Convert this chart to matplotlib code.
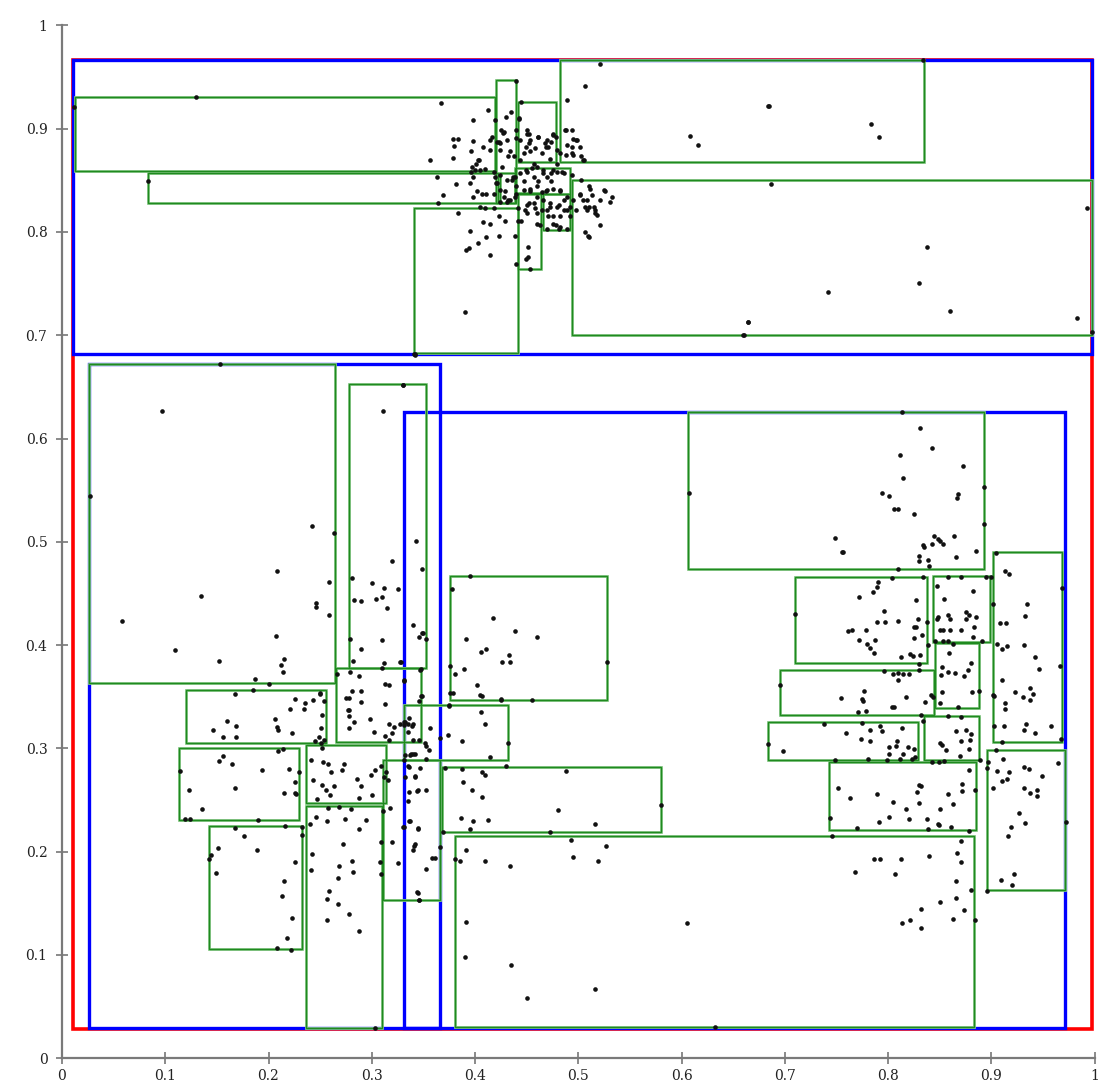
import numpy as np
import matplotlib
matplotlib.use("Agg")
import matplotlib.pyplot as plt
from matplotlib.patches import Rectangle

# ---- R-tree bounding boxes (x0, y0, x1, y1) ----
root_box = [(0.011, 0.028, 0.998, 0.966)]

level1_boxes = [
    (0.011, 0.682, 0.998, 0.966),
    (0.0265, 0.029, 0.366, 0.672),
    (0.331, 0.029, 0.971, 0.626),
]

leaf_boxes = [
    # upper node
    (0.0126, 0.859, 0.4195, 0.931),
    (0.083, 0.828, 0.4225, 0.857),
    (0.420, 0.828, 0.440, 0.947),
    (0.442, 0.868, 0.478, 0.926),
    (0.482, 0.868, 0.835, 0.966),
    (0.4935, 0.700, 0.998, 0.850),
    (0.341, 0.683, 0.442, 0.8235),
    (0.442, 0.764, 0.4635, 0.838),
    (0.466, 0.802, 0.492, 0.837),
    (0.4385, 0.837, 0.492, 0.8615),
    (0.424, 0.828, 0.4385, 0.857),
    # lower-left node
    (0.0265, 0.363, 0.264, 0.672),
    (0.278, 0.378, 0.3525, 0.653),
    (0.120, 0.305, 0.2555, 0.357),
    (0.265, 0.3065, 0.348, 0.3775),
    (0.113, 0.2307, 0.2295, 0.300),
    (0.1424, 0.1055, 0.232, 0.2252),
    (0.236, 0.247, 0.3135, 0.303),
    (0.236, 0.029, 0.3095, 0.244),
    (0.311, 0.153, 0.366, 0.289),
    # lower-right node
    (0.331, 0.289, 0.432, 0.342),
    (0.376, 0.347, 0.528, 0.467),
    (0.368, 0.219, 0.580, 0.282),
    (0.381, 0.0305, 0.883, 0.2155),
    (0.6066, 0.4737, 0.893, 0.626),
    (0.710, 0.383, 0.838, 0.466),
    (0.844, 0.403, 0.899, 0.467),
    (0.902, 0.306, 0.969, 0.490),
    (0.8455, 0.339, 0.888, 0.402),
    (0.695, 0.332, 0.8445, 0.376),
    (0.684, 0.289, 0.829, 0.326),
    (0.835, 0.289, 0.888, 0.331),
    (0.743, 0.221, 0.885, 0.287),
    (0.8956, 0.163, 0.971, 0.2985),
]

# ---- indexed points ----
top_pts = [
    (0.130, 0.931), (0.012, 0.921), (0.083, 0.849), (0.341, 0.682),
    (0.521, 0.963), (0.507, 0.941), (0.489, 0.928), (0.440, 0.946), (0.445, 0.926),
    (0.367, 0.925), (0.413, 0.918), (0.398, 0.908), (0.435, 0.916), (0.430, 0.911),
    (0.443, 0.909), (0.419, 0.908), (0.684, 0.922), (0.608, 0.893), (0.616, 0.884),
    (0.488, 0.899), (0.494, 0.899), (0.425, 0.899), (0.427, 0.896), (0.450, 0.899),
    (0.452, 0.895), (0.379, 0.890), (0.384, 0.890), (0.398, 0.888), (0.380, 0.883),
    (0.408, 0.882), (0.416, 0.892), (0.415, 0.889), (0.423, 0.887), (0.431, 0.889),
    (0.440, 0.891), (0.444, 0.889), (0.453, 0.889), (0.461, 0.892), (0.470, 0.889),
    (0.478, 0.892), (0.476, 0.895), (0.489, 0.884), (0.495, 0.890), (0.499, 0.889),
    (0.502, 0.882), (0.488, 0.874), (0.495, 0.874), (0.503, 0.873), (0.506, 0.870),
    (0.379, 0.872), (0.396, 0.878), (0.404, 0.870), (0.401, 0.866), (0.415, 0.879),
    (0.424, 0.879), (0.434, 0.878), (0.438, 0.873), (0.447, 0.876), (0.449, 0.882),
    (0.458, 0.881), (0.471, 0.882), (0.479, 0.879), (0.482, 0.876), (0.356, 0.870),
    (0.363, 0.853), (0.382, 0.846), (0.369, 0.836), (0.364, 0.828), (0.395, 0.847),
    (0.396, 0.858), (0.398, 0.853), (0.405, 0.860), (0.410, 0.861), (0.418, 0.858),
    (0.419, 0.853), (0.420, 0.847), (0.424, 0.855), (0.431, 0.850), (0.439, 0.853),
    (0.444, 0.857), (0.449, 0.860), (0.455, 0.862), (0.460, 0.863), (0.466, 0.860),
    (0.470, 0.853), (0.474, 0.857), (0.479, 0.858), (0.486, 0.857), (0.494, 0.855),
    (0.503, 0.850), (0.510, 0.844), (0.525, 0.841), (0.533, 0.834), (0.521, 0.831),
    (0.513, 0.836), (0.508, 0.831), (0.502, 0.836), (0.495, 0.831), (0.489, 0.834),
    (0.402, 0.840), (0.407, 0.837), (0.411, 0.837), (0.418, 0.837), (0.424, 0.841),
    (0.428, 0.834), (0.434, 0.831), (0.440, 0.837), (0.447, 0.841), (0.453, 0.842),
    (0.460, 0.844), (0.465, 0.839), (0.470, 0.841), (0.476, 0.842), (0.482, 0.841),
    (0.398, 0.834), (0.405, 0.824), (0.410, 0.823), (0.418, 0.823), (0.424, 0.829),
    (0.431, 0.829), (0.442, 0.823), (0.450, 0.826), (0.457, 0.828), (0.466, 0.831),
    (0.473, 0.828), (0.479, 0.824), (0.486, 0.821), (0.492, 0.824), (0.507, 0.824),
    (0.508, 0.821), (0.515, 0.824), (0.516, 0.818), (0.384, 0.818), (0.408, 0.810),
    (0.415, 0.808), (0.423, 0.815), (0.429, 0.811), (0.442, 0.811), (0.450, 0.818),
    (0.460, 0.818), (0.470, 0.821), (0.476, 0.815), (0.482, 0.815), (0.460, 0.808),
    (0.470, 0.803), (0.476, 0.808), (0.481, 0.803), (0.489, 0.803), (0.521, 0.807),
    (0.507, 0.800), (0.509, 0.796), (0.395, 0.801), (0.411, 0.795), (0.423, 0.796),
    (0.439, 0.796), (0.403, 0.789), (0.394, 0.784), (0.391, 0.782), (0.415, 0.778),
    (0.440, 0.769), (0.449, 0.774), (0.451, 0.776), (0.451, 0.785), (0.453, 0.764),
    (0.390, 0.722), (0.342, 0.681), (0.664, 0.713), (0.661, 0.700),
    (0.443, 0.910), (0.440, 0.899), (0.450, 0.895), (0.452, 0.886), (0.461, 0.892),
    (0.468, 0.886), (0.476, 0.894), (0.474, 0.887), (0.469, 0.882), (0.465, 0.876),
    (0.453, 0.878), (0.444, 0.870), (0.457, 0.866), (0.473, 0.871), (0.479, 0.866),
    (0.487, 0.899), (0.498, 0.889), (0.494, 0.882), (0.494, 0.876), (0.505, 0.870),
    (0.450, 0.858), (0.457, 0.853), (0.447, 0.849), (0.440, 0.844), (0.453, 0.840),
    (0.461, 0.849), (0.466, 0.857), (0.476, 0.860), (0.484, 0.858), (0.474, 0.849),
    (0.482, 0.840), (0.469, 0.840), (0.460, 0.834), (0.452, 0.828), (0.458, 0.823),
    (0.448, 0.821), (0.465, 0.821), (0.473, 0.824), (0.481, 0.826), (0.486, 0.831),
    (0.489, 0.821), (0.492, 0.815), (0.471, 0.815), (0.478, 0.807), (0.482, 0.805),
    (0.463, 0.807), (0.502, 0.837), (0.505, 0.831), (0.510, 0.824), (0.516, 0.821),
    (0.511, 0.842), (0.526, 0.840), (0.531, 0.829), (0.518, 0.816), (0.510, 0.795),
    (0.498, 0.821), (0.445, 0.811), (0.437, 0.853), (0.439, 0.834),
    (0.421, 0.887), (0.424, 0.886), (0.428, 0.897), (0.432, 0.873), (0.426, 0.863),
    (0.421, 0.847), (0.429, 0.840), (0.432, 0.831), (0.436, 0.850), (0.397, 0.863),
    (0.400, 0.860), (0.403, 0.870),
    (0.834, 0.966), (0.685, 0.922), (0.784, 0.904), (0.791, 0.892), (0.687, 0.846),
    (0.993, 0.823), (0.838, 0.785), (0.830, 0.751), (0.742, 0.742), (0.860, 0.723),
    (0.983, 0.717), (0.664, 0.713), (0.660, 0.700), (0.998, 0.703),
]

left_pts = [
    (0.153, 0.672), (0.097, 0.627), (0.027, 0.544), (0.311, 0.627), (0.330, 0.652),
    (0.242, 0.515), (0.263, 0.509), (0.343, 0.501), (0.208, 0.472), (0.320, 0.481),
    (0.349, 0.474), (0.259, 0.461), (0.135, 0.448), (0.281, 0.465), (0.300, 0.460),
    (0.312, 0.455), (0.325, 0.454), (0.283, 0.444), (0.290, 0.443), (0.304, 0.445),
    (0.310, 0.447), (0.315, 0.436), (0.246, 0.441), (0.246, 0.437), (0.259, 0.429),
    (0.058, 0.423), (0.207, 0.409), (0.340, 0.419), (0.346, 0.408), (0.349, 0.412),
    (0.279, 0.406), (0.310, 0.405), (0.109, 0.395), (0.152, 0.385), (0.215, 0.387),
    (0.212, 0.381), (0.214, 0.374), (0.290, 0.396), (0.282, 0.385), (0.312, 0.383),
    (0.327, 0.384), (0.310, 0.378), (0.348, 0.377), (0.266, 0.372), (0.279, 0.374),
    (0.288, 0.370), (0.331, 0.366), (0.187, 0.367), (0.200, 0.362), (0.185, 0.357),
    (0.168, 0.353), (0.250, 0.354), (0.254, 0.346), (0.226, 0.348), (0.235, 0.344),
    (0.243, 0.347), (0.281, 0.356), (0.290, 0.356), (0.275, 0.349), (0.290, 0.345),
    (0.313, 0.362), (0.317, 0.361), (0.313, 0.343), (0.346, 0.346), (0.278, 0.337),
    (0.221, 0.338), (0.234, 0.338), (0.353, 0.406), (0.350, 0.412),
    (0.206, 0.328), (0.208, 0.321), (0.209, 0.318), (0.160, 0.327), (0.169, 0.322),
    (0.146, 0.318), (0.156, 0.311), (0.169, 0.311), (0.223, 0.315), (0.250, 0.353),
    (0.252, 0.332), (0.251, 0.320), (0.249, 0.311), (0.245, 0.307), (0.254, 0.308),
    (0.251, 0.305), (0.252, 0.300), (0.278, 0.349), (0.277, 0.337), (0.278, 0.331),
    (0.283, 0.326), (0.298, 0.328), (0.278, 0.320), (0.302, 0.316), (0.317, 0.324),
    (0.327, 0.324), (0.331, 0.326), (0.335, 0.324), (0.339, 0.322), (0.322, 0.321),
    (0.320, 0.315), (0.313, 0.312), (0.317, 0.308), (0.335, 0.316), (0.340, 0.308),
    (0.338, 0.295), (0.332, 0.294), (0.346, 0.308), (0.352, 0.305),
    (0.209, 0.297), (0.214, 0.299), (0.152, 0.288), (0.156, 0.293), (0.165, 0.285),
    (0.194, 0.279), (0.220, 0.280), (0.114, 0.278), (0.168, 0.262), (0.123, 0.260),
    (0.215, 0.257), (0.226, 0.267), (0.226, 0.257), (0.227, 0.256), (0.136, 0.241),
    (0.119, 0.232), (0.124, 0.232), (0.190, 0.231), (0.230, 0.277),
    (0.168, 0.223), (0.176, 0.215), (0.216, 0.225), (0.232, 0.224), (0.232, 0.216),
    (0.151, 0.204), (0.144, 0.197), (0.142, 0.193), (0.189, 0.202), (0.149, 0.179),
    (0.226, 0.190), (0.215, 0.172), (0.213, 0.157), (0.223, 0.136), (0.218, 0.116),
    (0.208, 0.107), (0.222, 0.105),
    (0.241, 0.289), (0.253, 0.287), (0.258, 0.285), (0.273, 0.285), (0.261, 0.277),
    (0.271, 0.279), (0.243, 0.269), (0.252, 0.265), (0.263, 0.264), (0.256, 0.260),
    (0.260, 0.255), (0.247, 0.251), (0.286, 0.270), (0.290, 0.264), (0.299, 0.274),
    (0.303, 0.279), (0.300, 0.255), (0.288, 0.252), (0.309, 0.283), (0.314, 0.277),
    (0.312, 0.272),
    (0.258, 0.242), (0.268, 0.243), (0.280, 0.241), (0.246, 0.234), (0.257, 0.230),
    (0.274, 0.232), (0.294, 0.231), (0.288, 0.222), (0.240, 0.227), (0.272, 0.207),
    (0.309, 0.209), (0.242, 0.198), (0.281, 0.191), (0.308, 0.190), (0.268, 0.186),
    (0.282, 0.180), (0.241, 0.182), (0.309, 0.178), (0.267, 0.175), (0.259, 0.162),
    (0.257, 0.154), (0.267, 0.149), (0.278, 0.140), (0.257, 0.134), (0.288, 0.123),
    (0.303, 0.029),
    (0.311, 0.239), (0.320, 0.209), (0.325, 0.189), (0.331, 0.224), (0.336, 0.230),
    (0.341, 0.206), (0.345, 0.222), (0.344, 0.161), (0.346, 0.153), (0.316, 0.269),
    (0.318, 0.242), (0.335, 0.283), (0.342, 0.273), (0.345, 0.260), (0.336, 0.258),
    (0.342, 0.295), (0.331, 0.289),
]

right_pts = [
    (0.342, 0.682), (0.330, 0.652), (0.607, 0.547), (0.395, 0.467), (0.378, 0.454),
    (0.417, 0.426), (0.439, 0.414), (0.460, 0.408), (0.391, 0.406), (0.406, 0.393),
    (0.411, 0.396), (0.433, 0.390), (0.426, 0.384), (0.434, 0.384), (0.389, 0.377),
    (0.381, 0.372), (0.376, 0.380), (0.528, 0.384), (0.402, 0.361), (0.405, 0.352),
    (0.407, 0.351), (0.379, 0.354), (0.425, 0.347), (0.455, 0.347), (0.328, 0.384),
    (0.331, 0.365), (0.347, 0.376), (0.349, 0.351), (0.375, 0.341),
    (0.376, 0.354), (0.425, 0.348), (0.375, 0.342), (0.406, 0.335), (0.410, 0.324),
    (0.356, 0.320), (0.374, 0.313), (0.366, 0.310), (0.387, 0.307), (0.432, 0.305),
    (0.415, 0.292), (0.353, 0.302), (0.355, 0.298), (0.340, 0.295), (0.337, 0.294),
    (0.353, 0.290), (0.332, 0.326), (0.340, 0.324), (0.336, 0.329), (0.331, 0.323),
    (0.348, 0.351),
    (0.371, 0.281), (0.387, 0.280), (0.407, 0.277), (0.410, 0.274), (0.430, 0.283),
    (0.488, 0.278), (0.388, 0.267), (0.397, 0.260), (0.407, 0.253), (0.480, 0.240),
    (0.386, 0.233), (0.398, 0.230), (0.413, 0.231), (0.516, 0.227), (0.395, 0.222),
    (0.473, 0.219), (0.580, 0.245), (0.369, 0.219),
    (0.336, 0.282), (0.347, 0.281), (0.332, 0.272), (0.342, 0.272), (0.344, 0.259),
    (0.353, 0.260), (0.335, 0.249), (0.337, 0.230), (0.345, 0.223), (0.342, 0.207),
    (0.340, 0.202), (0.366, 0.205), (0.358, 0.194), (0.361, 0.194), (0.353, 0.183),
    (0.345, 0.160), (0.346, 0.153), (0.330, 0.224),
    (0.493, 0.211), (0.527, 0.206), (0.391, 0.202), (0.381, 0.193), (0.385, 0.191),
    (0.410, 0.191), (0.434, 0.186), (0.495, 0.195), (0.519, 0.191), (0.391, 0.132),
    (0.605, 0.131), (0.390, 0.098), (0.435, 0.090), (0.450, 0.058), (0.516, 0.067),
    (0.632, 0.030),
    (0.814, 0.626), (0.831, 0.610), (0.843, 0.591), (0.812, 0.584), (0.873, 0.573),
    (0.815, 0.562), (0.893, 0.553), (0.794, 0.547), (0.801, 0.544), (0.868, 0.546),
    (0.867, 0.542), (0.806, 0.532), (0.810, 0.532), (0.825, 0.527), (0.893, 0.517),
    (0.749, 0.504), (0.755, 0.490), (0.756, 0.490), (0.845, 0.506), (0.848, 0.503),
    (0.850, 0.501), (0.853, 0.498), (0.843, 0.498), (0.834, 0.497), (0.835, 0.495),
    (0.864, 0.506), (0.830, 0.486), (0.830, 0.481), (0.839, 0.482), (0.840, 0.477),
    (0.866, 0.485), (0.885, 0.491), (0.905, 0.489), (0.810, 0.474), (0.804, 0.465),
    (0.834, 0.466), (0.858, 0.466), (0.871, 0.466), (0.895, 0.466), (0.900, 0.466),
    (0.790, 0.461), (0.789, 0.456), (0.785, 0.451), (0.772, 0.447), (0.827, 0.444),
    (0.847, 0.457), (0.854, 0.445), (0.882, 0.452), (0.913, 0.472), (0.917, 0.469),
    (0.969, 0.455), (0.935, 0.440), (0.902, 0.440), (0.710, 0.430), (0.796, 0.433),
    (0.789, 0.422), (0.797, 0.422), (0.810, 0.423), (0.829, 0.425), (0.838, 0.422),
    (0.825, 0.418), (0.827, 0.418), (0.761, 0.414), (0.765, 0.415), (0.779, 0.415),
    (0.833, 0.410), (0.772, 0.405), (0.787, 0.405), (0.825, 0.407), (0.780, 0.401),
    (0.783, 0.397), (0.786, 0.392), (0.813, 0.388), (0.821, 0.391), (0.824, 0.389),
    (0.831, 0.390), (0.830, 0.382), (0.847, 0.425), (0.848, 0.427), (0.858, 0.429),
    (0.860, 0.425), (0.876, 0.432), (0.878, 0.429), (0.876, 0.425), (0.885, 0.427),
    (0.883, 0.418), (0.850, 0.415), (0.853, 0.415), (0.860, 0.415), (0.871, 0.415),
    (0.882, 0.408), (0.891, 0.404), (0.846, 0.404), (0.853, 0.404), (0.858, 0.404),
    (0.863, 0.401), (0.839, 0.400), (0.908, 0.421), (0.914, 0.421), (0.933, 0.428),
    (0.906, 0.401), (0.910, 0.396), (0.915, 0.399), (0.932, 0.400), (0.942, 0.388),
    (0.946, 0.377), (0.967, 0.380), (0.910, 0.366), (0.859, 0.392), (0.880, 0.383),
    (0.877, 0.376), (0.852, 0.379), (0.858, 0.374), (0.851, 0.371), (0.865, 0.373),
    (0.874, 0.370), (0.796, 0.375), (0.805, 0.372), (0.810, 0.373), (0.810, 0.366),
    (0.815, 0.372), (0.820, 0.372), (0.830, 0.376), (0.695, 0.361), (0.777, 0.356),
    (0.754, 0.349), (0.775, 0.348), (0.776, 0.346), (0.817, 0.350), (0.804, 0.340),
    (0.806, 0.340), (0.836, 0.345), (0.842, 0.352), (0.850, 0.344), (0.852, 0.355),
    (0.881, 0.355), (0.888, 0.356), (0.903, 0.351), (0.923, 0.355), (0.931, 0.350),
    (0.938, 0.358), (0.940, 0.353), (0.938, 0.347), (0.913, 0.344), (0.913, 0.338),
    (0.868, 0.340),
    (0.771, 0.335), (0.779, 0.336), (0.832, 0.332), (0.844, 0.350), (0.871, 0.330),
    (0.858, 0.331), (0.834, 0.327), (0.738, 0.324), (0.775, 0.325), (0.759, 0.315),
    (0.783, 0.318), (0.792, 0.322), (0.794, 0.317), (0.814, 0.320), (0.774, 0.309),
    (0.783, 0.307), (0.809, 0.307), (0.684, 0.304), (0.698, 0.297), (0.801, 0.301),
    (0.808, 0.302), (0.819, 0.301), (0.825, 0.299), (0.801, 0.295), (0.815, 0.295),
    (0.826, 0.292), (0.749, 0.289), (0.781, 0.290), (0.799, 0.289), (0.812, 0.290),
    (0.823, 0.290),
    (0.866, 0.317), (0.876, 0.318), (0.880, 0.314), (0.871, 0.307), (0.879, 0.308),
    (0.850, 0.305), (0.852, 0.303), (0.856, 0.298), (0.878, 0.299), (0.849, 0.287),
    (0.854, 0.288), (0.843, 0.287), (0.870, 0.293), (0.889, 0.289),
    (0.902, 0.352), (0.912, 0.322), (0.903, 0.322), (0.934, 0.324), (0.932, 0.318),
    (0.942, 0.315), (0.958, 0.322), (0.910, 0.306), (0.968, 0.309),
    (0.905, 0.298), (0.897, 0.287), (0.911, 0.290), (0.896, 0.281), (0.906, 0.278),
    (0.917, 0.277), (0.932, 0.282), (0.937, 0.280), (0.965, 0.286), (0.949, 0.273),
    (0.915, 0.270), (0.910, 0.268), (0.902, 0.262), (0.932, 0.262), (0.938, 0.257),
    (0.944, 0.260), (0.944, 0.254), (0.927, 0.237), (0.933, 0.228), (0.919, 0.224),
    (0.916, 0.215), (0.972, 0.229), (0.922, 0.178), (0.909, 0.173), (0.920, 0.168),
    (0.896, 0.162),
    (0.752, 0.262), (0.763, 0.252), (0.789, 0.256), (0.805, 0.248), (0.830, 0.265),
    (0.832, 0.264), (0.828, 0.258), (0.830, 0.247), (0.858, 0.256), (0.872, 0.266),
    (0.872, 0.259), (0.878, 0.279), (0.884, 0.260), (0.863, 0.246), (0.817, 0.241),
    (0.850, 0.241), (0.744, 0.233), (0.791, 0.229), (0.801, 0.234), (0.820, 0.232),
    (0.838, 0.232), (0.848, 0.227), (0.849, 0.226), (0.861, 0.224), (0.839, 0.222),
    (0.770, 0.223), (0.878, 0.220),
    (0.746, 0.215), (0.871, 0.210), (0.867, 0.199), (0.871, 0.190), (0.786, 0.193),
    (0.792, 0.193), (0.813, 0.193), (0.840, 0.196), (0.768, 0.180), (0.807, 0.178),
    (0.866, 0.172), (0.880, 0.163), (0.850, 0.151), (0.866, 0.155), (0.832, 0.145),
    (0.874, 0.144), (0.884, 0.134), (0.863, 0.135), (0.814, 0.131), (0.821, 0.134),
    (0.832, 0.126),
]

tick_values = [0, 0.1, 0.2, 0.3, 0.4, 0.5, 0.6, 0.7, 0.8, 0.9, 1]
tick_labels = ["0", "0.1", "0.2", "0.3", "0.4", "0.5", "0.6", "0.7", "0.8", "0.9", "1"]

# ---- figure ----
W, H = 1100, 1086
fig = plt.figure(figsize=(W / 100, H / 100), dpi=100)
ax = fig.add_axes([62 / W, (H - 1058.3) / H, 1032.5 / W, 1033 / H])
ax.set_xlim(0, 1)
ax.set_ylim(0, 1)


def draw_boxes(boxes, color, lw, z, alpha=1.0):
    for (x0, y0, x1, y1) in boxes:
        ax.add_patch(Rectangle((x0, y0), x1 - x0, y1 - y0, fill=False,
                               edgecolor=color, linewidth=lw, zorder=z,
                               alpha=alpha, joinstyle="miter"))


draw_boxes(root_box, "#ff0000", 2.6, 2)
draw_boxes(level1_boxes, "#0000ff", 2.4, 3)
draw_boxes(leaf_boxes, "#86c886", 2.0, 4)
draw_boxes(leaf_boxes, "#1f8a1f", 1.0, 5)

pts = np.array(top_pts + left_pts + right_pts)
ax.scatter(pts[:, 0], pts[:, 1], s=11, color="#111111", linewidths=0, zorder=6)

for side in ("top", "right"):
    ax.spines[side].set_visible(False)
for side in ("left", "bottom"):
    ax.spines[side].set_color("#7a7a7a")
    ax.spines[side].set_linewidth(1.6)

ax.set_xticks(tick_values)
ax.set_xticklabels(tick_labels)
ax.set_yticks(tick_values)
ax.set_yticklabels(tick_labels)
ax.tick_params(direction="inout", length=9, width=1.4, color="#8a8a8a",
               labelsize=10, labelcolor="#222222", pad=3)
ax.tick_params(axis="y", pad=6)
for lab in ax.get_xticklabels() + ax.get_yticklabels():
    lab.set_family("DejaVu Serif")

fig.savefig("out.png", dpi=100)
